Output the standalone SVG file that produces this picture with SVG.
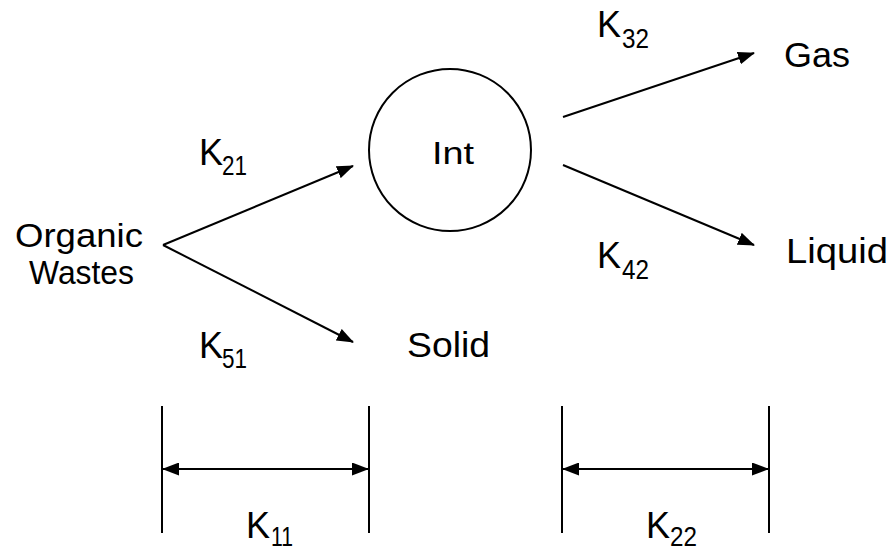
<svg xmlns="http://www.w3.org/2000/svg" width="892" height="552" viewBox="0 0 892 552">
<defs>
<marker id="ah" markerUnits="userSpaceOnUse" markerWidth="17" markerHeight="13" refX="16" refY="6.5" orient="auto-start-reverse" viewBox="0 0 17 13">
<path d="M0,0 L17,6.5 L0,13 z" fill="#000"/>
</marker>
<style>
.t{font-family:"Liberation Sans",Arial,sans-serif;fill:#000}
.lbl{font-size:35px}
.k{font-size:36px}
.s{font-size:28px}
.ln{stroke:#000;stroke-width:2;fill:none}
</style>
</defs>
<rect width="892" height="552" fill="#fff"/>
<g id="node-organic">
<text class="t" x="15" y="247" font-size="33" textLength="128" lengthAdjust="spacingAndGlyphs">Organic</text>
<text class="t" x="29" y="284" font-size="33" textLength="105" lengthAdjust="spacingAndGlyphs">Wastes</text>
</g>
<g id="node-int">
<circle cx="450" cy="150" r="81" class="ln"/>
<text class="t" x="432" y="164" font-size="32" textLength="42" lengthAdjust="spacingAndGlyphs">Int</text>
</g>
<g id="node-gas"><text class="t lbl" x="784" y="67" textLength="66" lengthAdjust="spacingAndGlyphs">Gas</text></g>
<g id="node-liquid"><text class="t lbl" x="786" y="263" textLength="102" lengthAdjust="spacingAndGlyphs">Liquid</text></g>
<g id="node-solid"><text class="t lbl" x="407" y="357" textLength="83" lengthAdjust="spacingAndGlyphs">Solid</text></g>
<g id="connectors">
<line class="ln" x1="163" y1="245" x2="353" y2="166" marker-end="url(#ah)"/>
<line class="ln" x1="163" y1="245" x2="353" y2="342" marker-end="url(#ah)"/>
<line class="ln" x1="563" y1="117" x2="754" y2="53" marker-end="url(#ah)"/>
<line class="ln" x1="563" y1="165" x2="754" y2="245" marker-end="url(#ah)"/>
<line class="ln" x1="162" y1="406" x2="162" y2="533"/>
<line class="ln" x1="369" y1="406" x2="369" y2="533"/>
<line class="ln" x1="163" y1="469" x2="368" y2="469" marker-start="url(#ah)" marker-end="url(#ah)"/>
<line class="ln" x1="562" y1="406" x2="562" y2="533"/>
<line class="ln" x1="769" y1="406" x2="769" y2="533"/>
<line class="ln" x1="563" y1="469" x2="768" y2="469" marker-start="url(#ah)" marker-end="url(#ah)"/>
</g>
<g id="labels">
<text class="t k" x="199" y="165">K</text><text class="t s" x="222" y="175" textLength="25" lengthAdjust="spacingAndGlyphs">21</text>
<text class="t k" x="199" y="358">K</text><text class="t s" x="222" y="368" textLength="25" lengthAdjust="spacingAndGlyphs">51</text>
<text class="t k" x="597" y="37">K</text><text class="t s" x="622" y="48" textLength="27" lengthAdjust="spacingAndGlyphs">32</text>
<text class="t k" x="597" y="268">K</text><text class="t s" x="622" y="279" textLength="27" lengthAdjust="spacingAndGlyphs">42</text>
<text class="t k" x="246" y="538">K</text><text class="t s" x="271" y="546" textLength="22" lengthAdjust="spacingAndGlyphs">11</text>
<text class="t k" x="646" y="538">K</text><text class="t s" x="670" y="546" textLength="27" lengthAdjust="spacingAndGlyphs">22</text>
</g>
</svg>
